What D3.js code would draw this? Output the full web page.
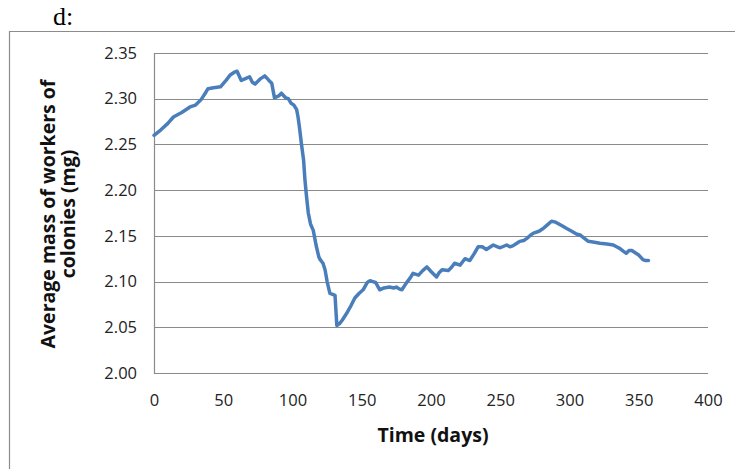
<!DOCTYPE html>
<html>
<head>
<meta charset="utf-8">
<script src="https://cdn.jsdelivr.net/npm/d3@7"></script>
<style>
  body { margin: 0; background: #fff; }
  .tick text { font-family: "Open Sans", sans-serif; font-size: 16.5px; fill: #222; }
  .title { font-family: "Open Sans", sans-serif; font-size: 19.5px; font-weight: bold; fill: #111; }
</style>
</head>
<body>
<svg class="plot" width="735" height="469"></svg>
<script>
// data
var days = [0, 5, 10, 14, 20, 26, 30, 34, 37, 39, 43, 48, 52, 55, 58, 60, 63, 66, 69, 71,
  73, 77, 80, 83, 85, 87, 90, 92, 95, 97, 99, 101, 103, 104, 105, 106.5, 108, 109, 110, 111.4,
  113, 115, 117, 119, 120, 122, 123.5, 125, 127, 129, 130.7, 131.5, 132, 134, 136, 139, 142, 145, 148, 151,
  154, 156, 158, 160, 163, 166, 170, 173, 175, 177, 179, 182, 185, 187, 191, 194, 197, 200, 204, 206,
  208, 212.5, 215, 217, 221, 224.5, 228, 231, 234, 237, 240, 243, 245, 248, 250, 254.6, 257, 259, 262, 264,
  267, 269, 272, 274, 278, 281, 284, 287, 290, 294.6, 298, 301.6, 305, 307.6, 311, 313.6, 318, 322, 327, 331.6,
  334, 336.5, 339, 341, 343, 345, 348, 350, 353, 355, 357];
var mass = [2.260, 2.266, 2.273, 2.280, 2.285, 2.291, 2.293, 2.299, 2.306, 2.311, 2.312, 2.313, 2.320, 2.326, 2.329, 2.330, 2.320, 2.322, 2.324, 2.318,
  2.316, 2.322, 2.325, 2.320, 2.317, 2.301, 2.303, 2.306, 2.301, 2.300, 2.295, 2.293, 2.288, 2.280, 2.269, 2.250, 2.233, 2.211, 2.195, 2.175,
  2.163, 2.156, 2.140, 2.127, 2.124, 2.120, 2.113, 2.100, 2.087, 2.086, 2.085, 2.065, 2.052, 2.054, 2.058, 2.065, 2.073, 2.082, 2.087, 2.091,
  2.099, 2.101, 2.100, 2.099, 2.091, 2.093, 2.094, 2.093, 2.094, 2.092, 2.091, 2.098, 2.104, 2.109, 2.107, 2.112, 2.116, 2.111, 2.105, 2.110,
  2.113, 2.112, 2.116, 2.120, 2.118, 2.125, 2.123, 2.130, 2.138, 2.138, 2.135, 2.138, 2.140, 2.138, 2.137, 2.140, 2.138, 2.139, 2.142, 2.144,
  2.145, 2.147, 2.151, 2.153, 2.155, 2.158, 2.162, 2.166, 2.165, 2.161, 2.158, 2.155, 2.152, 2.151, 2.147, 2.144, 2.143, 2.142, 2.141, 2.140,
  2.138, 2.136, 2.133, 2.131, 2.134, 2.134, 2.131, 2.129, 2.124, 2.123, 2.123];
var xTicks = [0, 50, 100, 150, 200, 250, 300, 350, 400];
var yTicks = [2.00, 2.05, 2.10, 2.15, 2.20, 2.25, 2.30, 2.35];

var svg = d3.select(".plot"),
    margin = {top: 53, right: 27, bottom: 96, left: 154},
    width = +svg.attr("width") - margin.left - margin.right,
    height = +svg.attr("height") - margin.top - margin.bottom;

// panel label and outer frame
svg.append("text")
    .attr("x", 53)
    .attr("y", 25)
    .style("font-family", "'Liberation Serif', serif")
    .style("font-size", "26px")
    .text("d:");

svg.append("path")
    .attr("d", "M740,31.5H9.5V475")
    .attr("fill", "none")
    .attr("stroke", "#8c8c8c")
    .attr("stroke-width", 1.2);

var x = d3.scaleLinear().domain([0, 400]).range([0, width]),
    y = d3.scaleLinear().domain([2.00, 2.35]).range([height, 0]);

var g = svg.append("g")
    .attr("transform", "translate(" + margin.left + "," + margin.top + ")");

//gridlines
g.selectAll(".grid")
    .data(yTicks)
    .enter().append("line")
    .attr("class", "grid")
    .attr("x1", 0)
    .attr("x2", width)
    .attr("y1", function(d) { return Math.round(y(d)) + 0.5; })
    .attr("y2", function(d) { return Math.round(y(d)) + 0.5; })
    .attr("stroke", "#8a8a8a")
    .attr("stroke-width", 1.2);

//axes
g.append("g")
    .attr("class", "axis axis--x")
    .attr("transform", "translate(0," + height + ")")
    .call(d3.axisBottom(x).tickValues(xTicks).tickSize(0).tickPadding(21))
    .call(function(a) { a.select(".domain").remove(); });

g.append("g")
    .attr("class", "axis axis--y")
    .call(d3.axisLeft(y).tickValues(yTicks).tickFormat(d3.format(".2f")).tickSize(0).tickPadding(17))
    .call(function(a) { a.select(".domain").remove(); });

g.append("line")
    .attr("x1", 0.5).attr("x2", 0.5)
    .attr("y1", 0).attr("y2", height + 0.5)
    .attr("stroke", "#8a8a8a")
    .attr("stroke-width", 1.2);

//data line
var line = d3.line()
    .x(function(d, i) { return x(days[i]); })
    .y(function(d) { return y(d); });

g.append("path")
    .datum(mass)
    .attr("d", line)
    .attr("fill", "none")
    .attr("stroke", "#4a7ebb")
    .attr("stroke-width", 3.5)
    .attr("stroke-linejoin", "round")
    .attr("stroke-linecap", "round");

//titles
g.append("text")
    .attr("class", "title")
    .attr("x", width / 2 + 2)
    .attr("y", height + 69)
    .style("text-anchor", "middle")
    .text("Time (days)");

var yt = svg.append("text")
    .attr("class", "title")
    .attr("transform", "translate(55,214) rotate(-90)")
    .style("text-anchor", "middle");
yt.append("tspan").attr("x", 0).attr("y", 0).text("Average mass of workers of");
yt.append("tspan").attr("x", 0).attr("y", 20).text("colonies (mg)");
</script>
</body>
</html>
